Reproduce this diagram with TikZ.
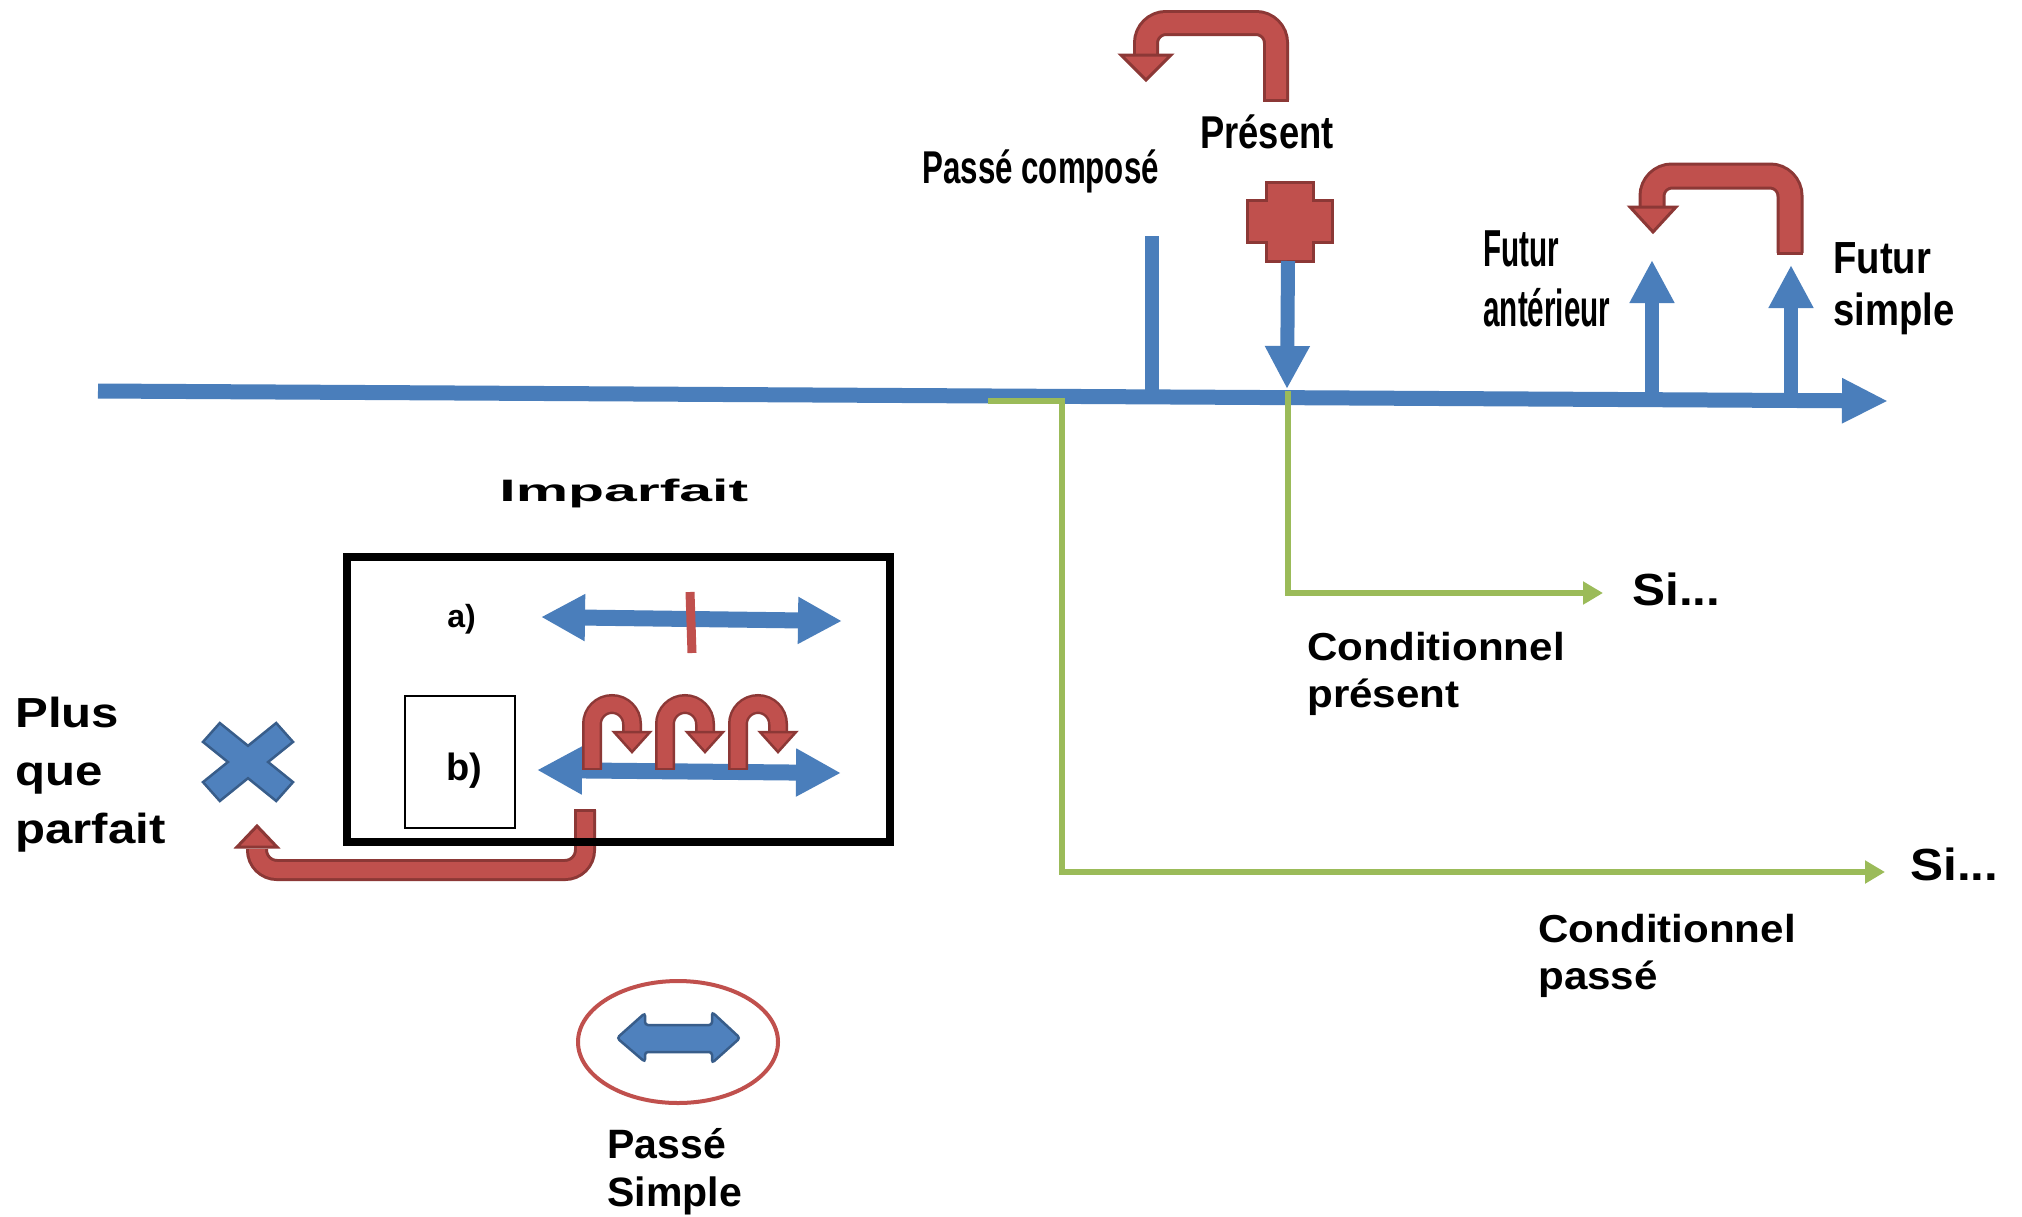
\documentclass[tikz,border=0pt]{standalone}
\usepackage{fontspec}
\setmainfont{Liberation Sans}
\newfontfamily\fPC[FakeStretch=0.68]{Liberation Sans}
\newfontfamily\fPR[FakeStretch=0.79]{Liberation Sans}
\newfontfamily\fFA[FakeStretch=0.57]{Liberation Sans}
\newfontfamily\fFS[FakeStretch=0.85]{Liberation Sans}
\newfontfamily\fIM[FakeStretch=1.9]{Liberation Sans}
\newfontfamily\fWD[FakeStretch=1.1]{Liberation Sans}
\newfontfamily\fCD[FakeStretch=1.08]{Liberation Sans}
\newfontfamily\fPQ[FakeStretch=1.17]{Liberation Sans}
\usetikzlibrary{arrows.meta,shapes.geometric}
\definecolor{tlblue}{HTML}{4A7EBB}
\definecolor{bfill}{HTML}{4F81BD}
\definecolor{bline}{HTML}{385D8A}
\definecolor{rfill}{HTML}{C0504D}
\definecolor{rline}{HTML}{8C3836}
\definecolor{gline}{HTML}{9BBB59}
\begin{document}
\begin{tikzpicture}[x=0.5pt,y=-0.5pt,
  bluearrow/.style={draw=tlblue, line width=7pt, -{Triangle[length=21.5pt,width=21pt]}},
  redband/.style={draw=rline, line width=1.5pt, double=rfill, double distance=10pt, rounded corners=10pt},
  redhead/.style={fill=rfill, draw=rline, line width=1.5pt, line join=miter},
  redcap/.style={draw=rline, line width=1.5pt},
  greenarrow/.style={draw=gline, line width=3pt, -{Triangle[length=10pt,width=11pt]}},
  lbl/.style={inner sep=0pt, text=black},
]
\fill[white] (0,0) rectangle (2022,1216);
\useasboundingbox (0,0) rectangle (2022,1216);

% ---- timeline ----
\coordinate (tlL) at (98,391);
\coordinate (tlR) at (1888,401);
\coordinate (pcTop) at (1152,236);
\coordinate (pcBot) at (1152,396);
\draw[tlblue, line width=7pt] (pcTop) -- (pcBot);
\draw[draw=tlblue, line width=7.5pt, -{Triangle[length=23pt,width=21pt]}] (tlL) -- (tlR);

% ---- present cross and arrow ----
\filldraw[fill=rfill, draw=rline, line width=1.5pt]
  (1266,182) -- (1313,182) -- (1313,200) -- (1332,200) -- (1332,242) -- (1313,242)
  -- (1313,261) -- (1266,261) -- (1266,242) -- (1247,242) -- (1247,200) -- (1266,200) -- cycle;
\coordinate (crossB) at (1288,261);
\coordinate (prTip) at (1287,389);
\draw[bluearrow] (crossB) -- (prTip);

% ---- futur arrows ----
\coordinate (faB) at (1652,398);
\coordinate (faT) at (1652,260);
\coordinate (fsB) at (1791,400);
\coordinate (fsT) at (1791,265);
\draw[bluearrow] (faB) -- (faT);
\draw[bluearrow] (fsB) -- (fsT);

% ---- red U-turn above Present ----
\draw[redband] (1276,100) -- (1276,23) -- (1146,23) -- (1146,57);
\draw[redcap] (1263,100) -- (1289,100);
\filldraw[redhead] (1121,55) -- (1171,55) -- (1146,80) -- cycle;

% ---- red U-turn futur ----
\draw[redband, double distance=10.5pt] (1790,253) -- (1790,176) -- (1652,176) -- (1652,209);
\draw[redcap] (1777,253) -- (1803,253);
\filldraw[redhead] (1630,207) -- (1676,207) -- (1653,232) -- cycle;

% ---- green conditionnel lines ----
\draw[greenarrow] (1288,391) -- (1288,593) -- (1603,593);
\draw[greenarrow] (988,401) -- (1062,401) -- (1062,872) -- (1885,872);

% ---- Imparfait box contents ----
\draw[redband, double distance=8pt] (585,810) -- (585,870) -- (257,870) -- (257,849);
\draw[redcap] (574,810) -- (596,810);
\filldraw[redhead] (237,847) -- (277,847) -- (257,826) -- cycle;

\draw[line width=4.25pt] (347,557) rectangle (890,842);
\draw[line width=0.6pt] (405,696) rectangle (515,828);

\draw[tlblue, line width=8pt, {Triangle[length=22pt,width=22pt]}-{Triangle[length=22pt,width=22pt]}] (541,617) -- (842,621);
\draw[rfill, line width=4.5pt] (690,592) -- (692,653);
\draw[tlblue, line width=8pt, {Triangle[length=22.5pt,width=22.5pt]}-{Triangle[length=22.5pt,width=22.5pt]}] (537,770) -- (841,773);

\foreach \x in {592,665,738}{
  \draw[redband, line width=1.25pt, double distance=7.5pt] (\x,769) -- (\x,704) -- (\x+40,704) -- (\x+40,734);
  \draw[redcap, line width=1.25pt] (\x-10,769) -- (\x+10,769);
  \filldraw[redhead, line width=1.25pt] (\x+22,732) -- (\x+58,732) -- (\x+40,752) -- cycle;
}

% ---- blue X ----
\begin{scope}[shift={(248,762)}]
\filldraw[fill=bfill, draw=bline, line width=1.25pt, line join=miter]
  (28.2,39) -- (45,20.1) -- (20.1,0) -- (45,-20.1) -- (28.2,-39) -- (0,-16.2)
  -- (-28.2,-39) -- (-45,-20.1) -- (-20.1,0) -- (-45,20.1) -- (-28.2,39) -- (0,16.2) -- cycle;
\end{scope}

% ---- Passe simple ellipse ----
\node (psell) [draw=rfill, line width=2pt, ellipse, minimum width=100pt, minimum height=61pt, inner sep=0pt] at (678,1042) {};
\filldraw[fill=bfill, draw=bline, line width=1.25pt, rounded corners=1.5pt]
  (617,1038) -- (645,1013) -- (645,1025) -- (712,1025) -- (712,1012) -- (740,1038)
  -- (712,1063) -- (712,1052) -- (645,1052) -- (645,1062) -- cycle;

% ---- labels ----
\node[lbl, anchor=base west, font=\fPC\bfseries\fontsize{23pt}{23pt}\selectfont] (pc) at (922,183) {Passé composé};
\node[lbl, anchor=base west, font=\fPR\bfseries\fontsize{23pt}{23pt}\selectfont] (pr) at (1200,148) {Présent};
\node[lbl, anchor=north west, align=left, font=\fFA\bfseries\fontsize{26pt}{30pt}\selectfont] (fa) at (1483,230) {Futur\\antérieur};
\node[lbl, anchor=north west, align=left, font=\fFS\bfseries\fontsize{22.5pt}{26pt}\selectfont] (fs) at (1833,242) {Futur\\simple};
\node[lbl, anchor=base west, font=\fIM\bfseries\fontsize{15.5pt}{16pt}\selectfont] (imp) at (499,501) {Imparfait};
\node[lbl, anchor=base west, font=\bfseries\fontsize{16pt}{16pt}\selectfont] (la) at (447,627) {a)};
\node[lbl, anchor=base west, font=\bfseries\fontsize{19pt}{20pt}\selectfont] (lb) at (446,780) {b)};
\node[lbl, anchor=north west, align=left, font=\fPQ\bfseries\fontsize{21pt}{29pt}\selectfont] (pqp) at (15,697) {Plus\\que\\parfait};
\node[lbl, anchor=base west, font=\fWD\bfseries\fontsize{22.5pt}{23pt}\selectfont] (si1) at (1632,605) {Si...};
\node[lbl, anchor=north west, align=left, font=\fCD\bfseries\fontsize{19.5pt}{23.5pt}\selectfont] (cpr) at (1307,632) {Conditionnel\\présent};
\node[lbl, anchor=base west, font=\fWD\bfseries\fontsize{22.5pt}{23pt}\selectfont] (si2) at (1910,880) {Si...};
\node[lbl, anchor=north west, align=left, font=\fCD\bfseries\fontsize{19.5pt}{23.5pt}\selectfont] (cpa) at (1538,914) {Conditionnel\\passé};
\node[lbl, anchor=north west, align=left, font=\bfseries\fontsize{20.5pt}{24pt}\selectfont] (ps) at (607,1128) {Passé\\Simple};
\end{tikzpicture}
\end{document}
